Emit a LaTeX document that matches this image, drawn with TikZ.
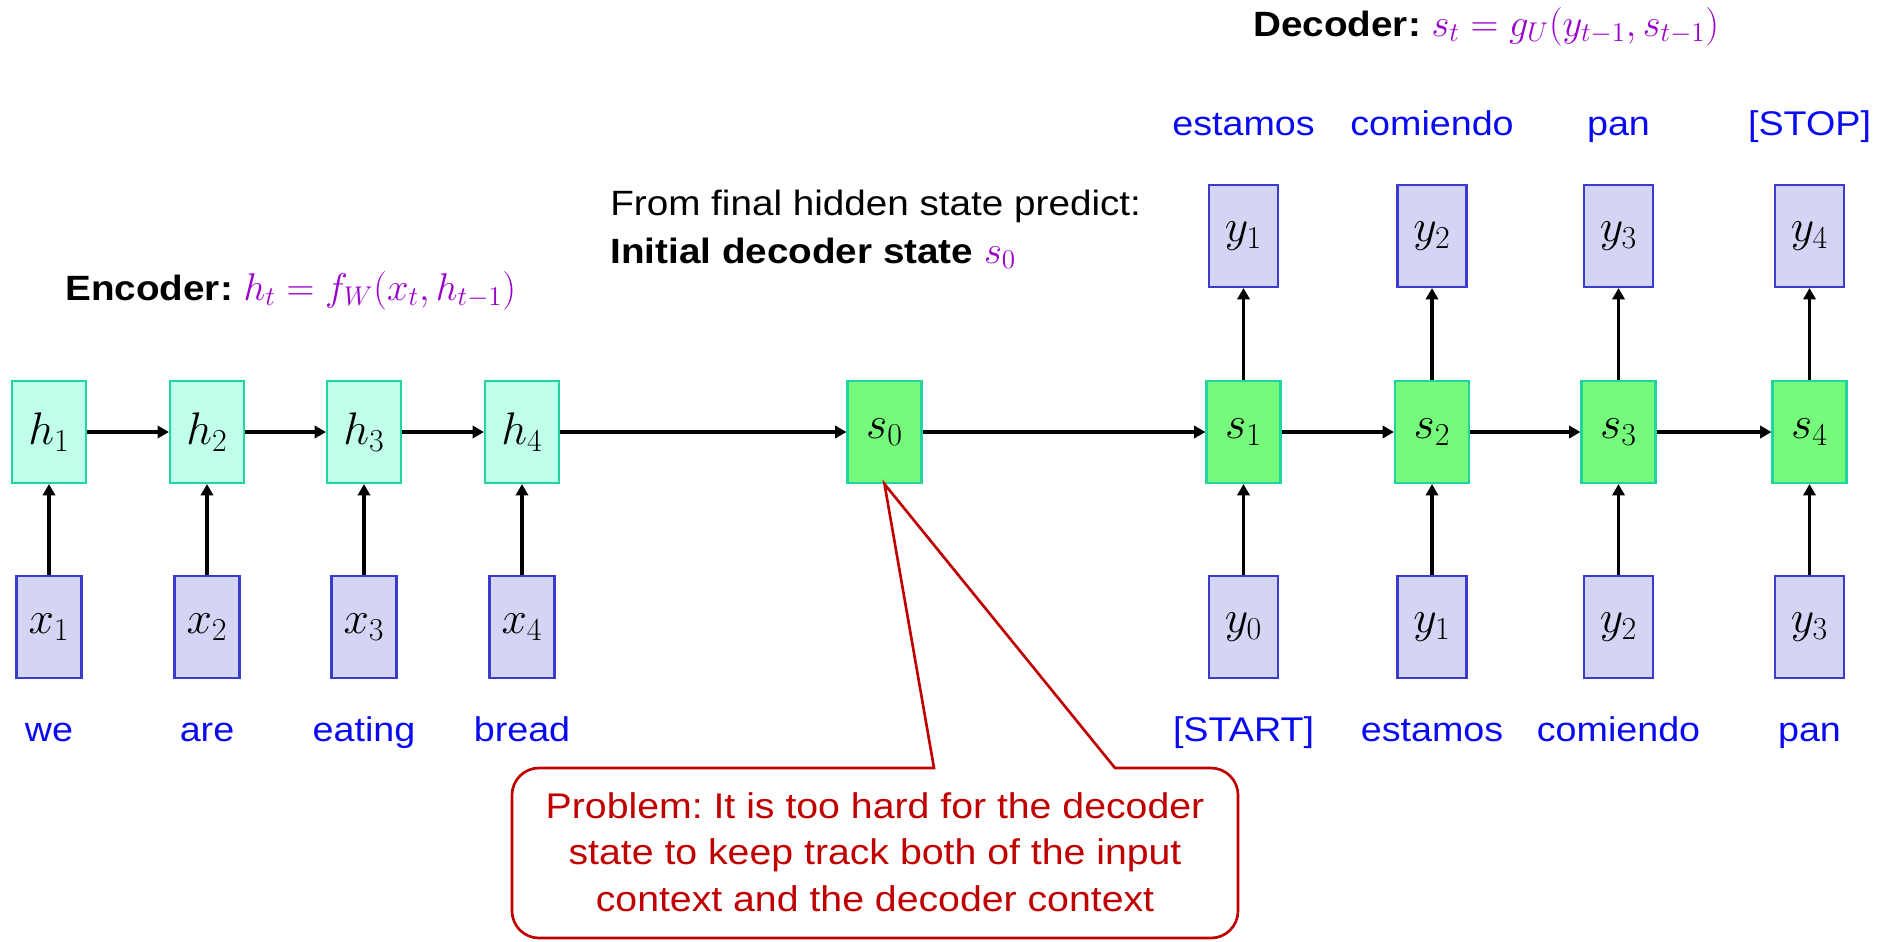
\RequirePackage{fix-cm}
\documentclass[tikz,border=0pt]{standalone}
\usepackage[no-math]{fontspec}
\setmainfont{Liberation Sans}[FakeStretch=1.1]
\usetikzlibrary{arrows.meta}

\definecolor{encfill}{HTML}{C0FFEB}
\definecolor{cellline}{HTML}{20D4A0}
\definecolor{decfill}{HTML}{76FA7B}
\definecolor{embfill}{HTML}{D4D4F4}
\definecolor{embline}{HTML}{3C3CCC}
\definecolor{wordblue}{HTML}{0A0AF0}
\definecolor{mathpurple}{HTML}{9900CC}
\definecolor{probred}{HTML}{C00000}

\tikzset{
  cell/.style={draw=cellline, line width=1.2pt, minimum width=1.48cm, minimum height=2.04cm,
    inner sep=0pt, font=\fontsize{26}{30}\selectfont},
  enccell/.style={cell, fill=encfill},
  deccell/.style={cell, fill=decfill},
  embbox/.style={cell, draw=embline, fill=embfill, minimum width=1.3cm},
  word/.style={text=wordblue, anchor=base, font=\fontsize{19.5}{23}\selectfont},
  label/.style={anchor=base west, inner sep=0pt, font=\fontsize{20}{27.2}\selectfont},
  flow/.style={line width=2pt, -{Triangle[length=6.5pt,width=7pt]}},
}
\newcommand{\pmath}[1]{\textcolor{mathpurple}{\fontsize{22}{26}\selectfont$#1$}}

\begin{document}
\frenchspacing
\begin{tikzpicture}[x=0.02cm, y=-0.02cm]
\useasboundingbox (0,0) rectangle (1893,941);

% encoder
\foreach \i/\xx/\w in {1/49/we, 2/207/are, 3/364/eating, 4/522/bread} {
  \node[enccell] (h\i) at (\xx,432) {$h_{\i}$};
  \node[embbox] (x\i) at (\xx,627) {$x_{\i}$};
  \node[word] (w\i) at (\xx,741) {\w};
  \draw[flow] (x\i) -- (h\i);
}

% decoder
\node[deccell] (s0) at (884.5,432) {$s_0$};
\foreach \i/\xx/\win/\wout in {1/1243.5/{[START]}/estamos, 2/1432/estamos/comiendo,
    3/1618.5/comiendo/pan, 4/1809.5/pan/{[STOP]}} {
  \pgfmathtruncatemacro{\j}{\i-1}
  \node[deccell] (s\i) at (\xx,432) {$s_{\i}$};
  \node[embbox, minimum width=1.38cm] (yin\j) at (\xx,627) {$y_{\j}$};
  \node[embbox, minimum width=1.38cm] (yout\i) at (\xx,236) {$y_{\i}$};
  \node[word] (win\j) at (\xx,741) {\win};
  \node[word] (wout\i) at (\xx,135) {\wout};
  \draw[flow] (yin\j) -- (s\i);
  \draw[flow] (s\i) -- (yout\i);
  \draw[flow] (s\j) -- (s\i);
}
\foreach \a/\b in {h1/h2, h2/h3, h3/h4, h4/s0}
  \draw[flow] (\a) -- (\b);

\node[label] (enclabel) at (65,300) {\textbf{Encoder:} \pmath{h_t = f_W(x_t, h_{t-1})}};
\node[label] (declabel) at (1253,36) {\textbf{Decoder:} \pmath{s_t = g_U(y_{t-1}, s_{t-1})}};
\node[label, align=left] (predict) at (610,263)
  {From final hidden state predict:\\ \textbf{Initial decoder state} \pmath{s_0}};

% problem callout
\draw[probred, line width=1.5pt] (700,768) -- (934,768) -- (s0.south) -- (1115,768) -- (1150,768)
  [rounded corners=0.54cm] -- (1238,768) -- (1238,938) -- (512,938) -- (512,768) -- cycle;
\node[text=probred, align=center, font=\fontsize{20.3}{26.6}\selectfont] (problem) at (875,852)
  {Problem: It is too hard for the decoder\\ state to keep track both of the input\\ context and the decoder context};

\end{tikzpicture}
\end{document}
